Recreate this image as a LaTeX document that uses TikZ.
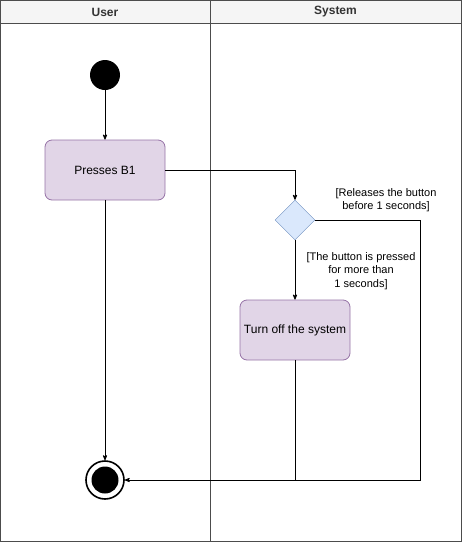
\documentclass[tikz,border=0pt]{standalone}
\usepackage{fontspec}
\setmainfont{Liberation Sans}
\usepackage{xcolor}
\usetikzlibrary{shapes.geometric, arrows, positioning, calc}

\definecolor{actfill}{HTML}{E1D5E7}
\definecolor{actline}{HTML}{9673A6}
\definecolor{decfill}{HTML}{DAE8FC}
\definecolor{decline}{HTML}{6C8EBF}
\definecolor{headfill}{HTML}{F5F5F5}

\tikzset{
  activity/.style={rectangle, rounded corners=7pt, draw=actline, fill=actfill, line width=0.8pt, minimum width=120pt, minimum height=60pt, align=center, font=\fontsize{12}{14}\selectfont},
  decision/.style={diamond, draw=decline, fill=decfill, minimum width=40pt, minimum height=40pt, inner sep=0pt, aspect=1},
  guard/.style={align=center, font=\fontsize{11}{13.5}\selectfont, inner sep=0pt},
  flow/.style={->, >=stealth', line width=0.8pt}
}

\begin{document}
\begin{tikzpicture}[x=1pt, y=-1pt]
\useasboundingbox (0,0) rectangle (462,542);
% lanes
\draw[fill=headfill, draw=black!70] (0.5,0.5) rectangle (461.5,23);
\draw[draw=black!70] (0.5,0.5) rectangle (461.5,541.5);
\draw[draw=black!70] (210,0.5) -- (210,541.5);
\node[font=\bfseries\fontsize{12}{14}\selectfont, text=black!80] (userlane) at (105,12) {User};
\node[font=\bfseries\fontsize{12}{14}\selectfont, text=black!80] (syslane) at (335.5,12) {System};

\node[circle, fill=black, minimum size=30pt, inner sep=0pt] (start) at (105,75) {};
\node[activity] (press) at (105,170) {Presses B1};
\node[decision] (check) at (295,220) {};
\node[activity, minimum width=110pt] (turnoff) at (295,330) {Turn off the system};
\node[circle, draw=black, line width=1.6pt, minimum size=38pt, inner sep=0pt] (final) at (105,480) {};
\node[circle, fill=black, minimum size=27pt, inner sep=0pt] (finalin) at (105,480) {};

\coordinate (corner) at (420,220);
\coordinate (join) at (295,480);

\draw[flow] (start) -- (press);
\draw[flow] (press.east) -| (check.north);
\draw[flow] (check.south) -- (turnoff.north);
\draw[flow] (check.east) -- (corner) |- (final.east);
\draw[line width=0.8pt] (turnoff.south) -- (join);
\draw[flow] (press.south) -- (final.north);

\node[guard] (release) at (386,200) {[Releases the button\\before 1 seconds]};
\node[guard] (hold) at (361,271) {[The button is pressed\\for more than\\1 seconds]};
\end{tikzpicture}
\end{document}
